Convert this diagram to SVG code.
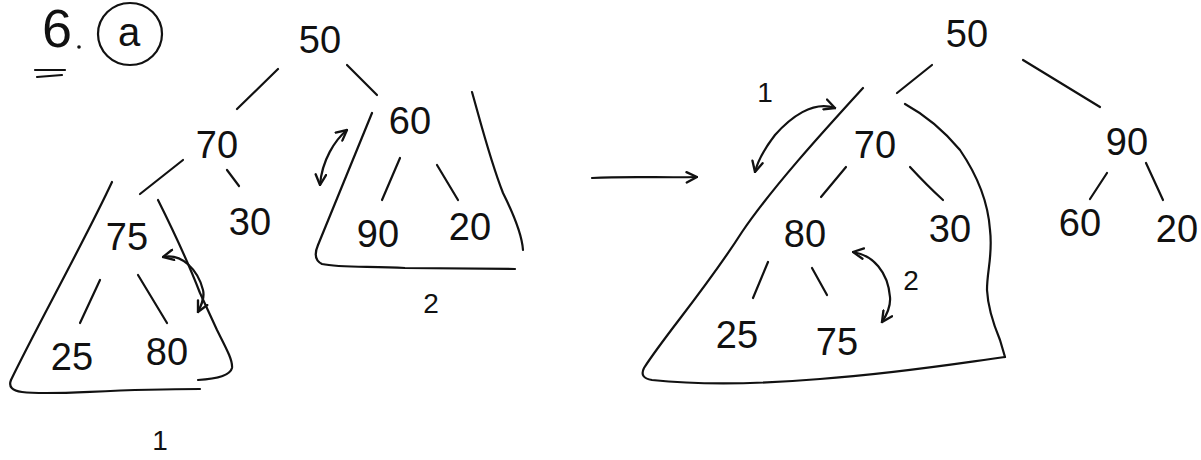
<svg xmlns="http://www.w3.org/2000/svg" width="1201" height="460" viewBox="0 0 1201 460">
<defs>
<style>
.t{font-family:"Liberation Sans","DejaVu Sans",sans-serif;font-size:38px;fill:#111;text-anchor:middle}
.s{font-size:28px}
.l{fill:none;stroke:#111;stroke-width:2.2;stroke-linecap:round;stroke-linejoin:round}
.a{marker-start:url(#ah);marker-end:url(#ah)}
</style>
<marker id="ah" viewBox="0 0 10 10" refX="9" refY="5" markerWidth="13" markerHeight="13" markerUnits="userSpaceOnUse" orient="auto-start-reverse">
<path d="M1,1 L9,5 L1,9" fill="none" stroke="#111" stroke-width="1.8" stroke-linecap="round"/>
</marker>
</defs>
<rect width="1201" height="460" fill="#fff"/>

<g id="title">
<text class="t" x="57" y="47" style="font-size:54px">6</text>
<circle cx="79" cy="47" r="1.8" fill="#111"/>
<ellipse cx="130" cy="34" rx="32" ry="31" class="l"/>
<text class="t" x="129" y="46" style="font-size:40px">a</text>
<path class="l" d="M35,70 L65,70 M37,77 L62,75"/>
</g>

<!-- left tree -->
<g id="L50"><text class="t" x="320" y="53">50</text></g>
<g id="L70"><text class="t" x="217" y="158">70</text></g>
<g id="L60"><text class="t" x="410" y="134">60</text></g>
<g id="L75"><text class="t" x="127" y="250">75</text></g>
<g id="L30"><text class="t" x="250" y="235">30</text></g>
<g id="L90"><text class="t" x="378" y="247">90</text></g>
<g id="L20"><text class="t" x="470" y="240">20</text></g>
<g id="L25"><text class="t" x="72" y="370">25</text></g>
<g id="L80"><text class="t" x="167" y="365">80</text></g>
<g id="sub1">
<path class="l" d="M112,182 C85,240 35,330 11,380 Q7,390 22,392 C55,396 100,389 200,389"/>
<path class="l" d="M158,200 C172,228 188,262 200,293 L217,330 C225,346 233,360 232,368 C230,376 215,379 198,380"/>
<text class="t s" x="160" y="450">1</text>
</g>
<g id="sub2">
<path class="l" d="M372,113 L318,245 Q312,259 322,264 C340,268 370,266 405,268 L515,269"/>
<path class="l" d="M472,92 C480,120 490,160 503,193 C514,215 522,235 523,250"/>
<text class="t s" x="431" y="313">2</text>
</g>

<!-- right tree -->
<g id="R50"><text class="t" x="967" y="47">50</text></g>
<g id="R70"><text class="t" x="875" y="158">70</text></g>
<g id="R90"><text class="t" x="1127" y="155">90</text></g>
<g id="R80"><text class="t" x="805" y="247">80</text></g>
<g id="R30"><text class="t" x="950" y="242">30</text></g>
<g id="R60"><text class="t" x="1080" y="236">60</text></g>
<g id="R20"><text class="t" x="1177" y="242">20</text></g>
<g id="R25"><text class="t" x="737" y="348">25</text></g>
<g id="R75"><text class="t" x="837" y="355">75</text></g>
<g id="subR">
<path class="l" d="M863,88 C820,135 772,188 742,232 C705,290 665,335 644,368 Q639,378 652,380 C700,385 760,384 820,379 C900,373 960,363 1005,357"/>
<path class="l" d="M905,104 C925,115 945,132 960,150 C975,172 988,200 990,230 C993,255 987,270 987,290 C988,310 995,328 1000,340 L1005,357"/>
<text class="t s" x="765" y="102">1</text>
<text class="t s" x="911" y="290">2</text>
</g>

<g id="connectors">
<path class="l" d="M237,109 L278,69"/>
<path class="l" d="M347,65 L377,95"/>
<path class="l" d="M140,194 L183,160"/>
<path class="l" d="M227,170 L239,186"/>
<path class="l" d="M100,280 L80,323"/>
<path class="l" d="M138,275 L167,323"/>
<path class="l" d="M400,158 L382,200"/>
<path class="l" d="M437,165 L458,200"/>
<path class="l a" d="M163,257 C182,253 198,270 203,290 C205,298 201,306 198,312"/>
<path class="l a" d="M347,130 C335,140 322,160 320,185"/>
<path class="l" d="M592,178 C630,176 665,178 697,177" marker-end="url(#ah)"/>
<path class="l" d="M932,65 L897,93"/>
<path class="l" d="M1023,60 L1100,107"/>
<path class="l" d="M846,167 L821,197"/>
<path class="l" d="M910,167 C922,180 932,190 943,200"/>
<path class="l" d="M1107,173 L1090,199"/>
<path class="l" d="M1146,163 L1163,200"/>
<path class="l" d="M768,262 L753,298"/>
<path class="l" d="M812,268 L827,295"/>
<path class="l a" d="M835,108 C813,100 790,118 775,135 C765,148 758,160 755,172"/>
<path class="l a" d="M853,252 C873,255 888,272 890,297 C891,308 886,316 882,322"/>
</g>
</svg>
